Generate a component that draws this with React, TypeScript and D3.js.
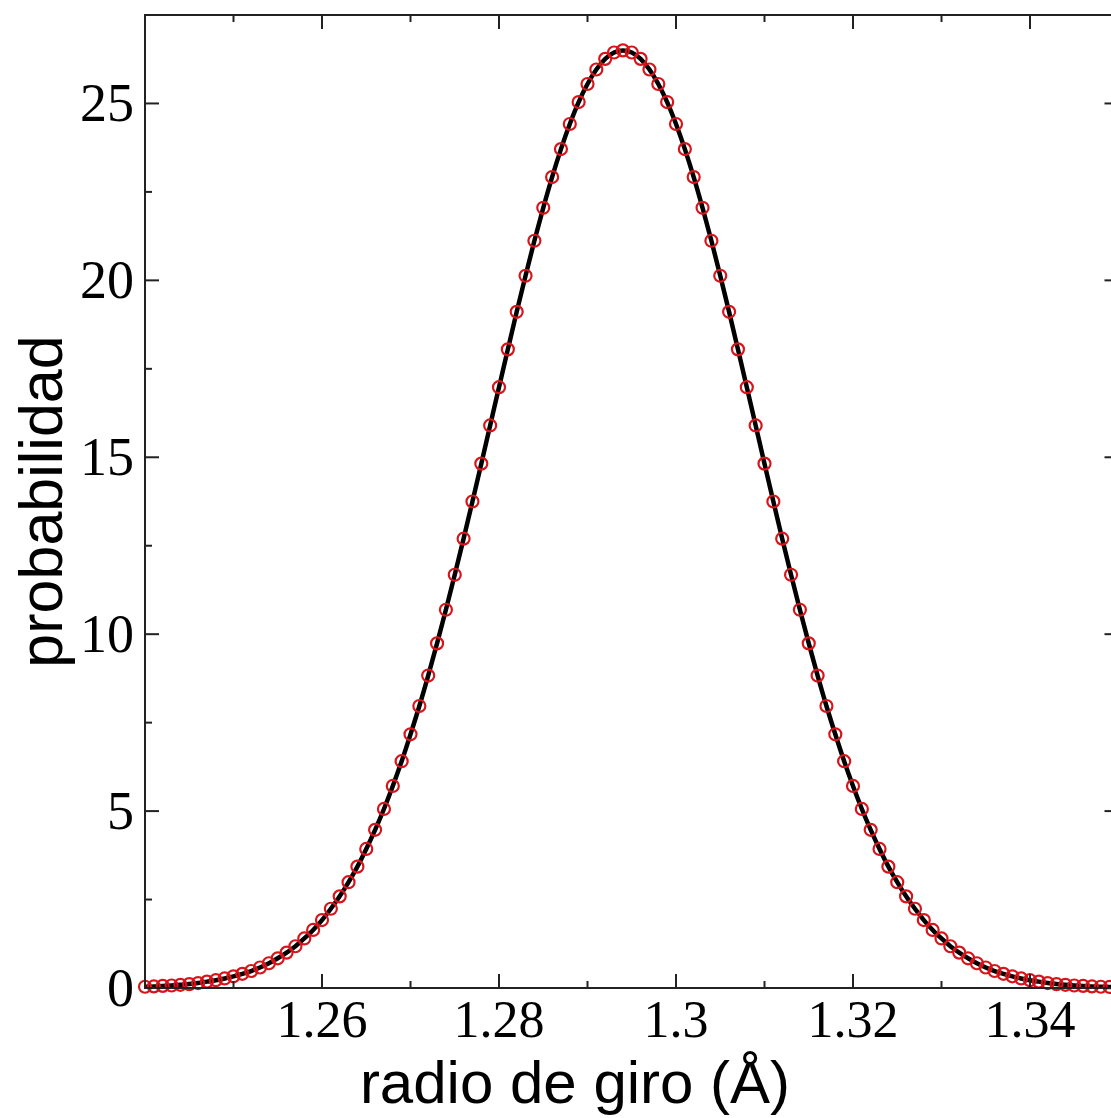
import React from "react";
import * as d3 from "d3";

// radio de giro (Å)
const radio: number[] = [
  1.240, 1.241, 1.242, 1.243, 1.244, 1.245, 1.246, 1.247, 1.248, 1.249,
  1.250, 1.251, 1.252, 1.253, 1.254, 1.255, 1.256, 1.257, 1.258, 1.259,
  1.260, 1.261, 1.262, 1.263, 1.264, 1.265, 1.266, 1.267, 1.268, 1.269,
  1.270, 1.271, 1.272, 1.273, 1.274, 1.275, 1.276, 1.277, 1.278, 1.279,
  1.280, 1.281, 1.282, 1.283, 1.284, 1.285, 1.286, 1.287, 1.288, 1.289,
  1.290, 1.291, 1.292, 1.293, 1.294, 1.295, 1.296, 1.297, 1.298, 1.299,
  1.300, 1.301, 1.302, 1.303, 1.304, 1.305, 1.306, 1.307, 1.308, 1.309,
  1.310, 1.311, 1.312, 1.313, 1.314, 1.315, 1.316, 1.317, 1.318, 1.319,
  1.320, 1.321, 1.322, 1.323, 1.324, 1.325, 1.326, 1.327, 1.328, 1.329,
  1.330, 1.331, 1.332, 1.333, 1.334, 1.335, 1.336, 1.337, 1.338, 1.339,
  1.340, 1.341, 1.342, 1.343, 1.344, 1.345, 1.346, 1.347, 1.348, 1.349,
  1.350,
];

// probabilidad
const probabilidad: number[] = [
  0.035, 0.045, 0.06, 0.07, 0.09, 0.11, 0.14, 0.18, 0.22, 0.27,
  0.33, 0.40, 0.48, 0.58, 0.70, 0.84, 1.00, 1.18, 1.40, 1.64,
  1.92, 2.24, 2.59, 2.99, 3.43, 3.93, 4.47, 5.06, 5.71, 6.41,
  7.17, 7.97, 8.83, 9.74, 10.69, 11.68, 12.70, 13.75, 14.82, 15.90,
  16.98, 18.05, 19.11, 20.13, 21.12, 22.05, 22.92, 23.71, 24.42, 25.04,
  25.55, 25.96, 26.26, 26.44, 26.50, 26.44, 26.26, 25.96, 25.55, 25.04,
  24.42, 23.71, 22.92, 22.05, 21.12, 20.13, 19.11, 18.05, 16.98, 15.90,
  14.82, 13.75, 12.70, 11.68, 10.69, 9.74, 8.83, 7.97, 7.17, 6.41,
  5.71, 5.06, 4.47, 3.93, 3.43, 2.99, 2.59, 2.24, 1.92, 1.64,
  1.40, 1.18, 1.00, 0.84, 0.70, 0.58, 0.48, 0.40, 0.33, 0.27,
  0.22, 0.18, 0.14, 0.11, 0.09, 0.07, 0.06, 0.045, 0.035, 0.03,
  0.02,
];

const xMajorTicks: number[] = [1.26, 1.28, 1.30, 1.32, 1.34];
const xTickLabels: string[] = ["1.26", "1.28", "1.3", "1.32", "1.34"];
const xMinorTicks: number[] = [1.25, 1.27, 1.29, 1.31, 1.33, 1.35];
const yMajorTicks: number[] = [0, 5, 10, 15, 20, 25];
const yMinorTicks: number[] = [2.5, 7.5, 12.5, 17.5, 22.5];

const W = 1111;
const H = 1118;
const L = 145;
const R = 1118.5;
const T = 15;
const B = 988;

export default function App() {
  const x = d3.scaleLinear().domain([1.24, 1.35]).range([L, R]);
  const y = d3.scaleLinear().domain([0, 27.5]).range([B, T]);
  const pts = radio.map((r, i) => [r, probabilidad[i]] as [number, number]);
  const line = d3
    .line<[number, number]>()
    .x((d) => x(d[0]))
    .y((d) => y(d[1]))
    .curve(d3.curveMonotoneX);

  const axisColor = "#222";
  const major = 14;
  const minor = 7;
  const serif = "'Liberation Serif', 'Times New Roman', serif";
  const sans = "'Liberation Sans', Arial, sans-serif";

  return (
    <svg
      width={W}
      height={H}
      style={{ position: "absolute", left: 0, top: 0, background: "#fff" }}
    >
      <rect x={0} y={0} width={W} height={H} fill="#fff" />
      <path d={line(pts) || ""} fill="none" stroke="#000" strokeWidth={4.5} />
      {pts.map((d, i) => (
        <circle
          key={i}
          cx={x(d[0])}
          cy={y(d[1])}
          r={6}
          fill="none"
          stroke="#d8141a"
          strokeWidth={2.2}
        />
      ))}
      {/* frame */}
      <rect
        x={L}
        y={T}
        width={R - L}
        height={B - T}
        fill="none"
        stroke={axisColor}
        strokeWidth={2}
      />
      {/* x ticks */}
      {xMajorTicks.map((t) => (
        <g key={"xM" + t}>
          <line x1={x(t)} x2={x(t)} y1={B} y2={B - major} stroke={axisColor} strokeWidth={2} />
          <line x1={x(t)} x2={x(t)} y1={T} y2={T + major} stroke={axisColor} strokeWidth={2} />
        </g>
      ))}
      {xMinorTicks.map((t) => (
        <g key={"xm" + t}>
          <line x1={x(t)} x2={x(t)} y1={B} y2={B - minor} stroke={axisColor} strokeWidth={2} />
          <line x1={x(t)} x2={x(t)} y1={T} y2={T + minor} stroke={axisColor} strokeWidth={2} />
        </g>
      ))}
      {/* y ticks */}
      {yMajorTicks.map((t) => (
        <g key={"yM" + t}>
          <line x1={L} x2={L + major} y1={y(t)} y2={y(t)} stroke={axisColor} strokeWidth={2} />
          <line x1={R} x2={R - major} y1={y(t)} y2={y(t)} stroke={axisColor} strokeWidth={2} />
        </g>
      ))}
      {yMinorTicks.map((t) => (
        <g key={"ym" + t}>
          <line x1={L} x2={L + minor} y1={y(t)} y2={y(t)} stroke={axisColor} strokeWidth={2} />
          <line x1={R} x2={R - minor} y1={y(t)} y2={y(t)} stroke={axisColor} strokeWidth={2} />
        </g>
      ))}
      {/* tick labels */}
      {xMajorTicks.map((t, i) => (
        <text
          key={"xl" + t}
          x={x(t)}
          y={1037}
          textAnchor="middle"
          fontFamily={serif}
          fontSize={52}
          fill="#000"
        >
          {xTickLabels[i]}
        </text>
      ))}
      {yMajorTicks.map((t) => (
        <text
          key={"yl" + t}
          x={134}
          y={y(t) + 18}
          textAnchor="end"
          fontFamily={serif}
          fontSize={54}
          fill="#000"
        >
          {t}
        </text>
      ))}
      {/* axis titles */}
      <text
        x={575}
        y={1103}
        textAnchor="middle"
        fontFamily={sans}
        fontSize={60}
        fill="#000"
      >
        radio de giro (Å)
      </text>
      <text
        transform={`translate(62, ${(T + B) / 2}) rotate(-90)`}
        textAnchor="middle"
        fontFamily={sans}
        fontSize={61}
        fill="#000"
      >
        probabilidad
      </text>
    </svg>
  );
}
